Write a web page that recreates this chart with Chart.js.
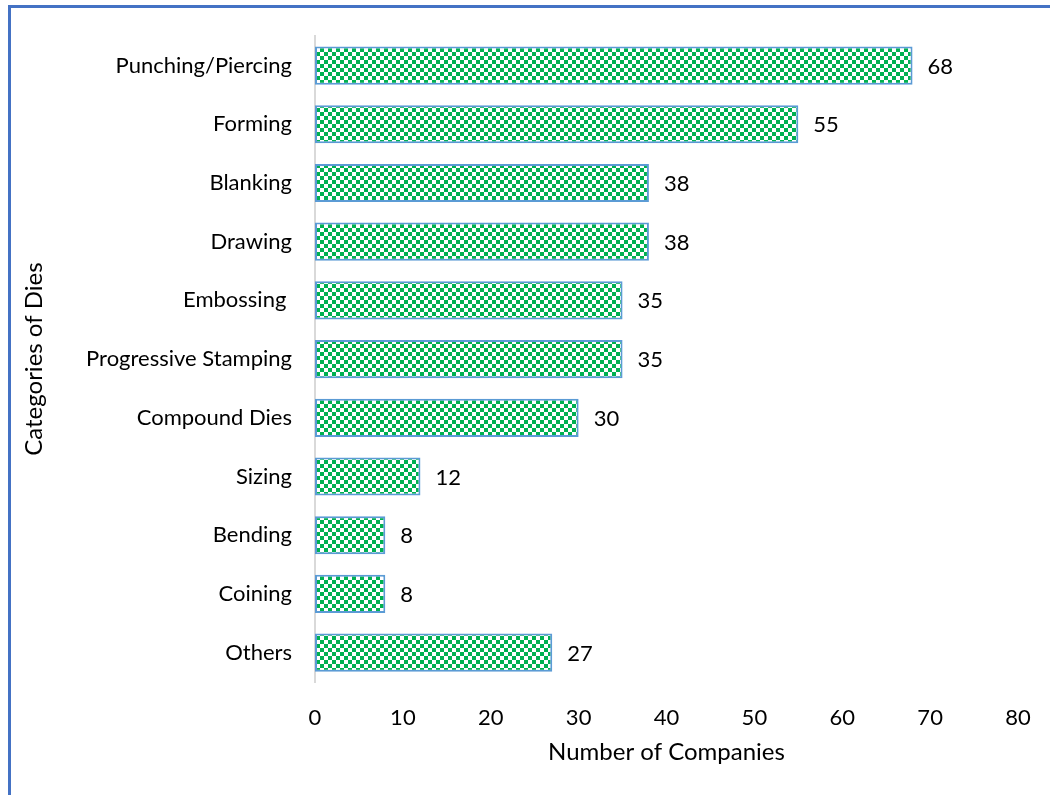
<!DOCTYPE html>
<html>
<head>
<meta charset="utf-8">
<script src="https://cdn.jsdelivr.net/npm/chart.js@4.4.0/dist/chart.umd.min.js"></script>
<style>
  html, body { margin: 0; padding: 0; background: #ffffff; }
  #wrap { position: relative; width: 1050px; height: 795px; overflow: hidden; }
  #frame { position: absolute; left: 8px; top: 5px; width: 1100px; height: 850px;
           border-left: 3px solid #4472C4; border-top: 3px solid #4472C4; box-sizing: border-box; pointer-events: none; }
  canvas { position: absolute; left: 0; top: 0; }
</style>
</head>
<body>
<div id="wrap">
  <canvas id="chart" width="1050" height="795"></canvas>
  <div id="frame"></div>
</div>
<script>
const categories = ['Punching/Piercing', 'Forming', 'Blanking', 'Drawing', 'Embossing ', 'Progressive Stamping',
                    'Compound Dies', 'Sizing', 'Bending', 'Coining', 'Others'];
const companies = [68, 55, 38, 38, 35, 35, 30, 12, 8, 8, 27];
const xTicks = [0, 10, 20, 30, 40, 50, 60, 70, 80];
const xTitle = 'Number of Companies';
const yTitle = 'Categories of Dies';

const FONT = 'Lato, "Open Sans", sans-serif';
const TICK_SIZE = 22;
const TITLE_SIZE = 24;

// small checkerboard fill for the bars
function checker() {
  const c = document.createElement('canvas');
  c.width = 8; c.height = 8;
  const g = c.getContext('2d');
  g.fillStyle = '#ffffff'; g.fillRect(0, 0, 8, 8);
  g.fillStyle = '#00B050';
  g.fillRect(0, 0, 4, 4);
  g.fillRect(4, 4, 4, 4);
  return g.createPattern(c, 'repeat');
}

// value written just past the end of each bar
const valueLabels = {
  id: 'valueLabels',
  afterDatasetsDraw(chart) {
    const ctx = chart.ctx;
    const meta = chart.getDatasetMeta(0);
    ctx.save();
    ctx.font = TICK_SIZE + 'px ' + FONT;
    ctx.fillStyle = '#000000';
    ctx.textAlign = 'left';
    ctx.textBaseline = 'middle';
    meta.data.forEach((bar, i) => {
      ctx.fillText(String(companies[i]), bar.x + 15, bar.y + 1);
    });
    ctx.restore();
  }
};

new Chart(document.getElementById('chart'), {
  type: 'bar',
  data: {
    labels: categories,
    datasets: [{
      data: companies,
      backgroundColor: checker(),
      borderColor: '#5B9BD5',
      borderWidth: 2,
      borderSkipped: false,
      categoryPercentage: 1,
      barPercentage: 0.65
    }]
  },
  options: {
    indexAxis: 'y',
    responsive: false,
    animation: false,
    layout: { padding: { left: 0, right: 32, top: 34, bottom: 0 } },
    plugins: { legend: { display: false }, tooltip: { enabled: false } },
    scales: {
      x: {
        min: 0, max: 80,
        afterBuildTicks(axis) { axis.ticks = xTicks.map(v => ({ value: v })); },
        afterFit(axis) {
          axis.height = 795 - 34 - 648;
          axis.paddingLeft = 0;
          axis.paddingRight = 0;
        },
        grid: { display: false, drawTicks: false },
        border: { display: false },
        ticks: { color: '#000000', font: { family: FONT, size: TICK_SIZE }, padding: 23 },
        title: { display: true, text: xTitle, color: '#000000',
                 font: { family: FONT, size: TITLE_SIZE }, padding: { top: 0, bottom: 28 } }
      },
      y: {
        afterFit(axis) { axis.width = 315; },
        grid: { display: false, drawTicks: false },
        border: { display: true, color: '#D9D9D9', width: 2 },
        ticks: { color: '#000000', font: { family: FONT, size: TICK_SIZE }, padding: 23 },
        title: { display: true, text: yTitle, color: '#000000',
                 font: { family: FONT, size: TITLE_SIZE }, padding: { top: 20, bottom: 0 } }
      }
    }
  },
  plugins: [valueLabels]
});
</script>
</body>
</html>
